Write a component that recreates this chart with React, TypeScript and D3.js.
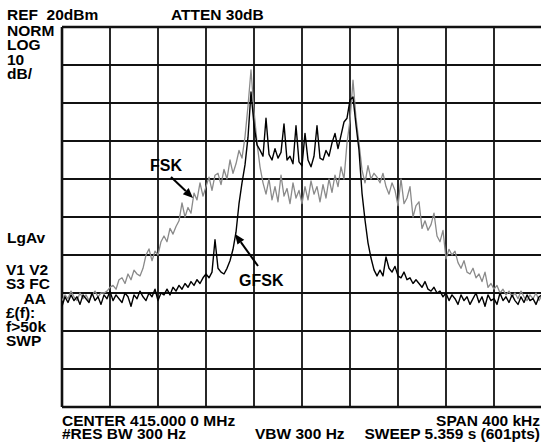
import React from "react";
import * as d3 from "d3";

// Sweep: -200 kHz .. +200 kHz around centre, 2.5 kHz per sample
const START_KHZ = -200;
const STEP_KHZ = 2.5;

// Level values in dBm
const fskLevels: number[] = [
  -52, -50.5, -51.5, -49.5, -51, -52, -50, -51.5, -50.5, -52,
  -50.5, -49.5, -51, -50, -50, -49.5, -48.5, -48, -49, -46.5,
  -46, -47.5, -45, -46.5, -44, -45, -45.5, -43.5, -40, -38.4,
  -41.5, -39, -40, -36.5, -35, -36.5, -33, -34.5, -32.5, -31,
  -26.3, -30, -27.5, -29, -23.7, -25.5, -21, -24.5, -22, -19.5,
  -23, -19, -18.5, -21.5, -17.5, -20, -15, -18.5, -16, -12.5,
  -14.5, -8.9, -0.8, 8.7, -2, -10.5, -16.8, -21, -24, -20,
  -25.5, -22, -26, -19, -24.5, -22.5, -26.5, -21, -25, -23,
  -26.5, -22, -25.5, -20.5, -24, -22, -26, -21.5, -25, -20,
  -23.5, -19, -22, -16.8, -20, -10.5, -4.5, 6, -4, -10.5,
  -17.6, -21, -16.5, -20, -18.5, -19.5, -21, -18.5, -22, -24,
  -21, -23, -27, -20, -26.5, -25, -22, -30, -27, -26,
  -33, -31, -33.5, -32, -29, -35, -36.5, -33.5, -41, -38.5,
  -40, -39, -42, -43.5, -41.5, -44.5, -45, -43.5, -46, -45,
  -47, -44.5, -48.5, -47.5, -49, -48, -50, -49, -50.5, -49.5,
  -51, -50, -51.5, -49.5, -51, -52, -50.5, -51.5, -50, -52,
  -50.5,
];

const gfskLevels: number[] = [
  -53.5, -51, -52.5, -50.5, -52, -51, -53, -50.5, -51.5, -52.5,
  -50, -52, -51, -53, -50.5, -51.5, -49.5, -52, -50.5, -51.5,
  -52.5, -50, -51, -53.5, -50.5, -51.5, -49.5, -51, -52, -50,
  -51, -49, -52, -50, -50.5, -49, -50.5, -48.5, -49.5, -48,
  -49, -47.5, -48.5, -47, -48, -46.5, -47.5, -46, -45, -46,
  -44.5, -36, -43.5, -44.5, -45, -43.5, -41.5, -38.5, -34, -26.5,
  -21, -16.3, -9, 2.9, -5.8, -11, -12.4, -14, -4, -13.5,
  -15, -12, -14.5, -13, -5.5, -15, -14, -16, -6, -15.5,
  -16.5, -8, -15, -16.8, -14, -6, -14.5, -15, -12.5, -14,
  -10.5, -8, -12, -8.5, -5, -4, 0.8, 1.6, -5.8, -12.4,
  -23.7, -30.8, -36.8, -40.8, -43.9, -45.5, -44, -45.5, -40.5, -43.5,
  -44.5, -43, -45.5, -46, -44.5, -46.5, -46, -47.5, -46.5, -47.5,
  -48.5, -47, -49, -49.5, -48.5, -50, -49.5, -51, -50, -52,
  -50.5, -51.5, -53, -50.5, -52, -51, -53, -51.5, -50, -52.5,
  -51, -53.5, -50.5, -52, -51.5, -53, -50, -52, -51, -52.5,
  -50.5, -52, -53, -51, -52.5, -50.5, -52, -51.5, -53, -51,
  -50.5,
];

const headerTop = ["REF\u00a0\u00a020dBm", "ATTEN 30dB"];
const leftUpper = ["NORM", "LOG", "10", "dB/"];
const leftLower = ["V1 V2", "S3 FC", "£(f):", "f>50k", "SWP"];
const footer = ["CENTER 415.000 0 MHz", "#RES BW 300 Hz", "VBW 300 Hz", "SWEEP 5.359 s (601pts)", "SPAN 400 kHz"];

const W = 541;
const H = 444;
const PL = 62, PR = 542, PT = 27, PB = 407;

export default function App() {
  const x = d3.scaleLinear().domain([-200, 200]).range([PL, PR]);
  const y = d3.scaleLinear().domain([-80, 20]).range([PB, PT]);

  const line = d3
    .line<number>()
    .x((_, i) => x(START_KHZ + i * STEP_KHZ))
    .y((d) => y(d));

  const xTicks = d3.range(-200, 201, 40);
  const yTicks = d3.range(-80, 21, 10);

  const font = "'Liberation Sans', Arial, Helvetica, sans-serif";
  const tStyle = { fontFamily: font, fontWeight: 700, fontSize: 15.5, fill: "#000" } as const;

  const arrow = (x1: number, y1: number, x2: number, y2: number) => {
    const ang = Math.atan2(y2 - y1, x2 - x1);
    const L = 10, Wd = 4.2;
    const bx = x2 - L * Math.cos(ang), by = y2 - L * Math.sin(ang);
    const px = -Math.sin(ang) * Wd, py = Math.cos(ang) * Wd;
    return (
      <g>
        <line x1={x1} y1={y1} x2={bx} y2={by} stroke="#000" strokeWidth={2} />
        <polygon points={`${x2},${y2} ${bx + px},${by + py} ${bx - px},${by - py}`} fill="#000" />
      </g>
    );
  };

  return (
    <svg width={W} height={H} style={{ position: "absolute", left: 0, top: 0, background: "#fff" }}>
      <rect x={0} y={0} width={W} height={H} fill="#fff" />
      <defs>
        <clipPath id="plot">
          <rect x={PL} y={PT - 20} width={PR - PL} height={PB - PT + 20} />
        </clipPath>
      </defs>
      {/* grid */}
      {xTicks.map((t) => (
        <line key={"vx" + t} x1={x(t)} x2={x(t)} y1={PT} y2={PB} stroke="#111" strokeWidth={t === -200 ? 2.6 : 1.8} />
      ))}
      {yTicks.map((t) => (
        <line key={"hy" + t} x1={PL} x2={PR} y1={y(t)} y2={y(t)} stroke="#111" strokeWidth={t === 20 || t === -80 ? 2.4 : 1.8} />
      ))}

      <g clipPath="url(#plot)">
        <path d={line(fskLevels) || ""} fill="none" stroke="#8a8a8a" strokeWidth={1.3} strokeLinejoin="round" />
        <path d={line(gfskLevels) || ""} fill="none" stroke="#000" strokeWidth={1.4} strokeLinejoin="round" />
      </g>

      {/* annotations */}
      <text x={150} y={171} style={{ ...tStyle, fontSize: 16 }}>FSK</text>
      {arrow(171, 177, 193, 198)}
      <text x={239} y={286} style={{ ...tStyle, fontSize: 16 }}>GFSK</text>
      {arrow(258, 266, 235, 234)}

      {/* header */}
      <text x={7} y={20} style={tStyle}>{headerTop[0]}</text>
      <text x={171} y={20} style={tStyle}>{headerTop[1]}</text>
      {leftUpper.map((s, i) => (
        <text key={s} x={7} y={36 + i * 14.4} style={tStyle}>{s}</text>
      ))}
      <text x={7} y={243} style={tStyle}>LgAv</text>
      <text x={6} y={275} style={tStyle}>{leftLower[0]}</text>
      <text x={6} y={289} style={tStyle}>{leftLower[1]}</text>
      <text x={46} y={303.5} style={tStyle} textAnchor="end">AA</text>
      <text x={6} y={318} style={tStyle}>{leftLower[2]}</text>
      <text x={6} y={332} style={tStyle}>{leftLower[3]}</text>
      <text x={6} y={346} style={tStyle}>{leftLower[4]}</text>

      {/* footer */}
      <text x={62} y={426} style={tStyle}>{footer[0]}</text>
      <text x={62} y={438.5} style={tStyle}>{footer[1]}</text>
      <text x={255} y={438.5} style={tStyle}>{footer[2]}</text>
      <text x={540} y={438.5} style={tStyle} textAnchor="end">{footer[3]}</text>
      <text x={540} y={426} style={tStyle} textAnchor="end">{footer[4]}</text>
    </svg>
  );
}
